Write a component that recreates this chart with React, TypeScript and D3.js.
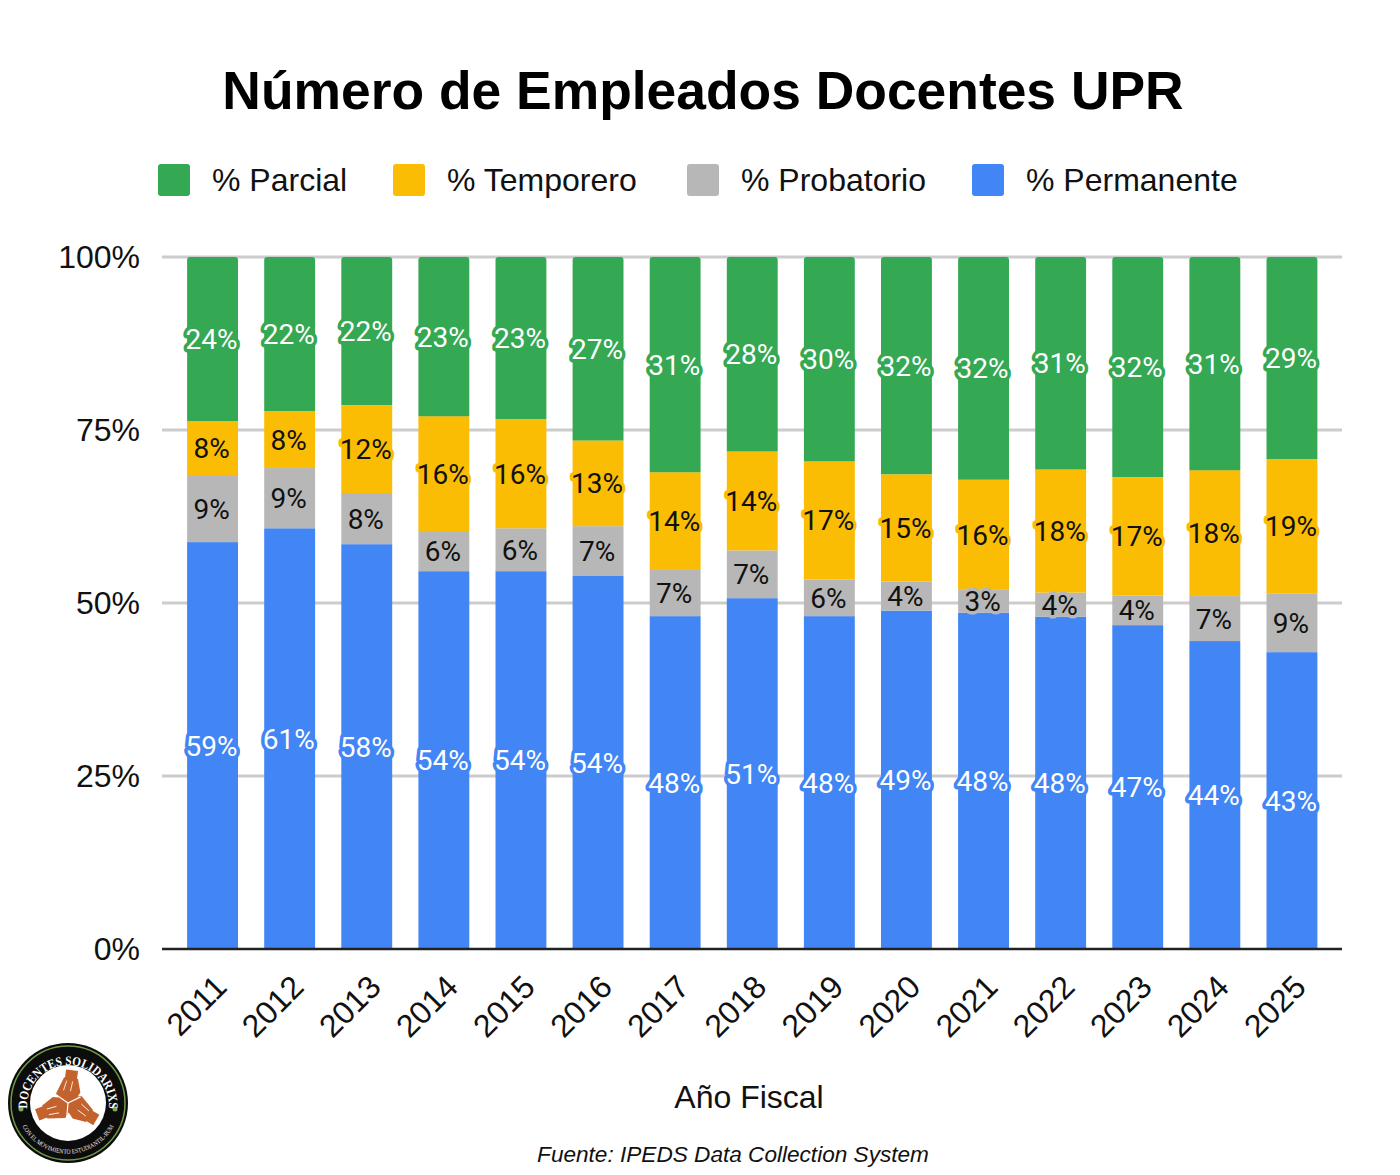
import { useEffect, useRef } from 'react';
import * as d3 from 'd3';

const years = ['2011', '2012', '2013', '2014', '2015', '2016', '2017', '2018', '2019', '2020', '2021', '2022', '2023', '2024', '2025'];

// segment sizes (percent of the bar)
const permanente = [58.8, 60.8, 58.5, 54.6, 54.6, 53.9, 48.1, 50.7, 48.1, 48.9, 48.6, 48.0, 46.8, 44.5, 42.9];
const probatorio = [9.7, 8.7, 7.4, 5.8, 6.2, 7.2, 6.8, 6.9, 5.3, 4.2, 3.3, 3.5, 4.3, 6.5, 8.5];
const temporero = [7.8, 8.2, 12.7, 16.6, 15.8, 12.4, 14.0, 14.3, 17.1, 15.5, 15.9, 17.8, 17.1, 18.2, 19.4];
const parcial = [23.7, 22.3, 21.4, 23.0, 23.4, 26.5, 31.1, 28.1, 29.5, 31.4, 32.2, 30.7, 31.8, 30.8, 29.2];

// printed labels, they don't always round the same way as the bars
const permanenteLabels = [59, 61, 58, 54, 54, 54, 48, 51, 48, 49, 48, 48, 47, 44, 43];
const probatorioLabels = [9, 9, 8, 6, 6, 7, 7, 7, 6, 4, 3, 4, 4, 7, 9];
const temporeroLabels = [8, 8, 12, 16, 16, 13, 14, 14, 17, 15, 16, 18, 17, 18, 19];
const parcialLabels = [24, 22, 22, 23, 23, 27, 31, 28, 30, 32, 32, 31, 32, 31, 29];

const yTicks = [0, 25, 50, 75, 100];

const seriesNames = ['% Permanente', '% Probatorio', '% Temporero', '% Parcial'];
const seriesValues = [permanente, probatorio, temporero, parcial];
const seriesLabels = [permanenteLabels, probatorioLabels, temporeroLabels, parcialLabels];
const seriesColors = ['#4285f4', '#b7b7b7', '#fbbc04', '#34a853'];
const labelColors = ['#ffffff', '#111111', '#111111', '#ffffff'];

const legendOrder = [3, 2, 1, 0];
const legendX = [158, 393, 687, 972];

const sans = '"Liberation Sans", Arial, sans-serif';
const labelFont = 'Roboto, sans-serif';

function Logo() {
    // small badge in the lower left corner, drawn around its own centre
    const orange = '#c4622d';
    const hand = 'M-7,-25 L7,-25 L11,-12 L4,2 L-5,3 L-13,-8 Z';
    return (
        <g transform="translate(68,1103)">
            <circle r={60} fill="#0c0c0c" />
            <circle r={57} fill="none" stroke="#6f9a4a" strokeWidth={1.5} />
            <circle r={38} fill="#ffffff" />
            <circle cx={-47} cy={6} r={2.5} fill="#7cab4f" />
            <circle cx={47} cy={6} r={2.5} fill="#7cab4f" />
            <defs>
                <path id="logoTop" d="M-41,3 A41,41 0 1 1 41,3" />
                <path id="logoBottom" d="M-50,13 A52,52 0 0 0 50,13" />
            </defs>
            <text fontFamily='"Liberation Serif", serif' fontWeight="bold" fontSize={13} fill="#ffffff">
                <textPath href="#logoTop" startOffset="50%" textAnchor="middle" textLength={134} lengthAdjust="spacingAndGlyphs">DOCENTES SOLIDARIXS</textPath>
            </text>
            <text fontFamily='"Liberation Serif", serif' fontSize={6.5} fill="#e8e8e8">
                <textPath href="#logoBottom" startOffset="50%" textAnchor="middle" textLength={112} lengthAdjust="spacingAndGlyphs">CON EL MOVIMIENTO ESTUDIANTIL-RUM</textPath>
            </text>
            {[7, 121, 249].map(angle => (
                <g key={angle} transform={`rotate(${angle})`}>
                    <rect x={-6} y={-33} width={12} height={9} fill={orange} />
                    <path d={hand} fill={orange} />
                    <path d="M-4,-22 L-6,-12 M2,-22 L1,-12" stroke="#ffffff" strokeWidth={0.8} fill="none" />
                </g>
            ))}
            {[64, 185, 305].map(angle => (
                <path key={angle} transform={`rotate(${angle})`} d="M0,0 L0,-14" stroke="#ffffff" strokeWidth={1.2} />
            ))}
        </g>
    );
}

export default function App() {
    const svgRef = useRef<SVGSVGElement>(null);

    useEffect(() => {
        if (!svgRef.current) return;
        const svg = d3.select(svgRef.current);
        const root = svg.select<SVGGElement>('g.chart');
        root.selectAll('*').remove();

        const x = d3.scaleBand<string>()
            .domain(years)
            .range([174, 1330.5])
            .paddingInner(0.34)
            .paddingOuter(0.17);
        const y = d3.scaleLinear().domain([0, 100]).range([949, 257]);

        const rows = years.map((_, i) => seriesValues.map(s => s[i]));
        const stacked = d3.stack<number[], number>()
            .keys(seriesValues.map((_, i) => i))
            .value((row, k) => row[k])(rows);

        // gridlines
        root.append('g')
            .selectAll('line')
            .data(yTicks.filter(t => t > 0))
            .enter()
            .append('line')
            .attr('x1', 162)
            .attr('x2', 1342)
            .attr('y1', d => y(d))
            .attr('y2', d => y(d))
            .attr('stroke', '#cccccc')
            .attr('stroke-width', 3);

        // y axis labels
        root.append('g')
            .selectAll('text')
            .data(yTicks)
            .enter()
            .append('text')
            .attr('x', 140)
            .attr('y', d => y(d) + 11)
            .attr('text-anchor', 'end')
            .attr('font-family', sans)
            .attr('font-size', 32)
            .attr('fill', '#111111')
            .text(d => `${d}%`);

        // bars, top segment gets small rounded corners
        const barPath = (x0: number, y0: number, w: number, h: number) => {
            const r = 3;
            const p = d3.path();
            p.moveTo(x0, y0 + h);
            p.lineTo(x0, y0 + r);
            p.arcTo(x0, y0, x0 + r, y0, r);
            p.lineTo(x0 + w - r, y0);
            p.arcTo(x0 + w, y0, x0 + w, y0 + r, r);
            p.lineTo(x0 + w, y0 + h);
            p.closePath();
            return p.toString();
        };

        stacked.forEach((layer, k) => {
            const g = root.append('g');
            if (k === stacked.length - 1) {
                g.selectAll('path')
                    .data(layer)
                    .enter()
                    .append('path')
                    .attr('d', (d, i) => barPath(x(years[i])!, y(d[1]), x.bandwidth(), y(d[0]) - y(d[1])))
                    .attr('fill', seriesColors[k]);
            } else {
                g.selectAll('rect')
                    .data(layer)
                    .enter()
                    .append('rect')
                    .attr('x', (_, i) => x(years[i])!)
                    .attr('y', d => y(d[1]))
                    .attr('width', x.bandwidth())
                    .attr('height', d => y(d[0]) - y(d[1]))
                    .attr('fill', seriesColors[k]);
            }
        });

        // baseline
        root.append('line')
            .attr('x1', 162)
            .attr('x2', 1342)
            .attr('y1', y(0))
            .attr('y2', y(0))
            .attr('stroke', '#222222')
            .attr('stroke-width', 2.5);

        // value labels with a halo in the colour of their segment
        stacked.forEach((layer, k) => {
            root.append('g')
                .selectAll('text')
                .data(layer)
                .enter()
                .append('text')
                .attr('x', (_, i) => x(years[i])! + x.bandwidth() / 2 - 1)
                .attr('y', d => (y(d[0]) + y(d[1])) / 2)
                .attr('dy', '0.36em')
                .attr('text-anchor', 'middle')
                .attr('font-family', labelFont)
                .attr('font-size', 28)
                .attr('fill', labelColors[k])
                .attr('stroke', seriesColors[k])
                .attr('stroke-width', 7)
                .attr('stroke-linejoin', 'round')
                .attr('paint-order', 'stroke')
                .text((_, i) => `${seriesLabels[k][i]}%`);
        });

        // x axis labels
        root.append('g')
            .selectAll('text')
            .data(years)
            .enter()
            .append('text')
            .attr('transform', d => `translate(${x(d)! + x.bandwidth() / 2 + 16},${989}) rotate(-45)`)
            .attr('text-anchor', 'end')
            .attr('font-family', sans)
            .attr('font-size', 32)
            .attr('fill', '#111111')
            .text(d => d);
    }, []);

    return (
        <svg
            ref={svgRef}
            width={1400}
            height={1175}
            viewBox="0 0 1400 1175"
            style={{ position: 'absolute', left: 0, top: 0, background: '#ffffff' }}
        >
            <text x={703} y={109} textAnchor="middle" fontFamily={sans} fontWeight="bold" fontSize={53.4} fill="#000000">
                Número de Empleados Docentes UPR
            </text>
            {legendOrder.map((s, i) => (
                <g key={s}>
                    <rect x={legendX[i]} y={164} width={32} height={32} rx={3} fill={seriesColors[s]} />
                    <text x={legendX[i] + 54} y={191} fontFamily={sans} fontSize={32} fill="#111111">
                        {seriesNames[s]}
                    </text>
                </g>
            ))}
            <g className="chart" />
            <text x={749} y={1108} textAnchor="middle" fontFamily={sans} fontSize={32} fill="#111111">
                Año Fiscal
            </text>
            <text x={733} y={1162} textAnchor="middle" fontFamily={sans} fontStyle="italic" fontSize={22.6} fill="#111111">
                Fuente: IPEDS Data Collection System
            </text>
            <Logo />
        </svg>
    );
}
